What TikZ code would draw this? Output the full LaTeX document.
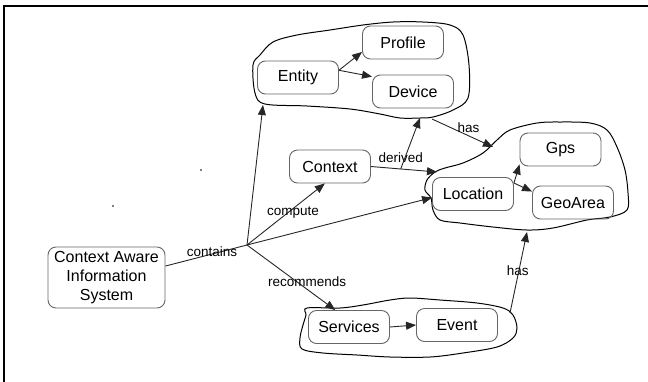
\documentclass[tikz,border=0pt]{standalone}
\usepackage{fontspec}
\setmainfont{Liberation Sans}
\usetikzlibrary{arrows.meta,calc}

\begin{document}
\begin{tikzpicture}[x=1pt, y=-1pt,
  concept/.style={draw=black!60, line width=0.9pt, rounded corners=8pt,
    minimum width=81pt, minimum height=33pt, inner sep=2pt,
    font=\fontsize{16}{19}\selectfont},
  link/.style={draw=black!85, line width=0.9pt, -{Triangle[length=10pt,width=8pt]}},
  rel/.style={font=\fontsize{13.5}{15}\selectfont, inner sep=0pt},
  blob/.style={line width=1pt}]

\useasboundingbox (0,0) rectangle (648,381);

% frame
\draw[line width=2pt] (4,383) -- (4,6) -- (650,6);

% clouds round the groups
\draw[blob] plot[smooth cycle, tension=0.55] coordinates { (253,65) (260,55) (273,42) (297,35) (330,30) (363,25) (393,22) (423,22) (450,25) (463,35) (469,65) (468,98) (453,110) (433,117) (420,118) (400,118) (380,114) (350,109) (307,106) (265,104) (255,93) };
\draw[blob] plot[smooth cycle, tension=0.55] coordinates { (435,172) (445,168) (463,163) (483,153) (497,140) (510,130) (537,123) (560,122) (590,123) (607,130) (617,147) (625,170) (628,193) (627,210) (610,217) (587,220) (553,228) (527,230) (493,227) (460,223) (440,220) (433,210) (431,198) (425,190) (427,180) };
\draw[blob] plot[smooth cycle, tension=0.55] coordinates { (307,308) (340,308) (363,305) (390,300) (410,298) (440,300) (477,303) (503,308) (513,315) (517,328) (513,338) (497,347) (463,353) (430,357) (390,357) (357,355) (323,353) (302,349) (300,338) (303,325) (306,315) };

% stray dots
\fill (113,206) circle (0.8);
\fill (201,170) circle (0.8);

% concepts
\node[concept] (profile) at (403,42.5) {Profile};
\node[concept] (entity) at (298,77.5) {Entity};
\node[concept] (device) at (413,91.5) {Device};
\node[concept] (context) at (330,166.5) {Context};
\node[concept] (gps) at (560.5,149.5) {Gps};
\node[concept] (location) at (473,194) {Location};
\node[concept] (geoarea) at (573,202.5) {GeoArea};
\node[concept, minimum width=117pt, minimum height=61pt, align=center] (cais) at (106.5,277.5) {Context Aware\\Information\\System};
\node[concept] (services) at (349,327) {Services};
\node[concept] (event) at (457,325) {Event};

% ends on the clouds
\coordinate (hub) at (247,245);
\coordinate (ent-in) at (263,105);
\coordinate (dev-in) at (420,118);
\coordinate (dev-out) at (432,119);
\coordinate (loc-top) at (493,147);
\coordinate (loc-in) at (437,172);
\coordinate (loc-low) at (527,232);
\coordinate (evt-out) at (510,313);
\coordinate (split) at ($(context.east)!0.45!(loc-in)$);

% relations
\draw[draw=black!85, line width=0.9pt] (cais.11) -- node[rel, pos=0.57, yshift=2pt] {contains} (hub);
\draw[link] (hub) -- (ent-in);
\draw[link] (hub) -- node[rel, pos=0.59, yshift=-4pt] {compute} (context.-107);
\draw[link] (hub) -- (location.185);
\draw[link] (hub) -- node[rel, pos=0.68, yshift=8pt] {recommends} (services.129);

\draw[link] (context.east) -- node[rel, pos=0.45, yshift=11pt] {derived} (loc-in);
\draw[link] (split) -- (dev-in);
\draw[link] (dev-out) -- node[rel, pos=0.6, yshift=8pt] {has} (loc-top);
\draw[link] (evt-out) -- node[rel, pos=0.52, xshift=-1pt] {has} (loc-low);

\draw[link] (entity.10) -- (profile.193);
\draw[link] (entity.10) -- (device.160);
\draw[link] (location.15) -- (gps.200);
\draw[link] (location.15) -- (geoarea.165);
\draw[link] (services.east) -- (event.west);

\end{tikzpicture}
\end{document}
